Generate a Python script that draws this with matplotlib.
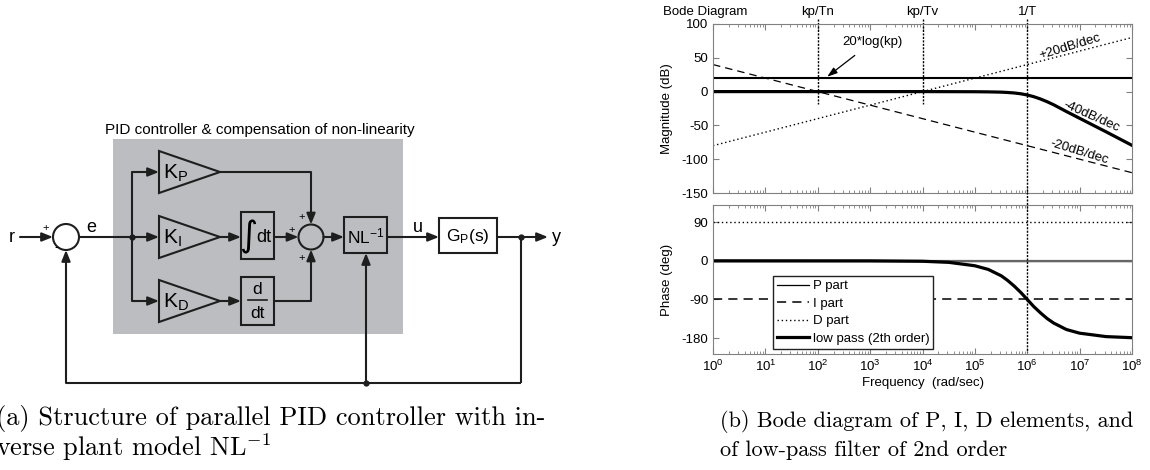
import numpy as np
import matplotlib
matplotlib.use('Agg')
import matplotlib.pyplot as plt
from matplotlib.patches import Rectangle, Circle, Polygon

plt.rcParams['font.family'] = ['Liberation Sans', 'DejaVu Sans']
plt.rcParams['mathtext.fontset'] = 'custom'
plt.rcParams['mathtext.rm'] = 'Liberation Sans'
plt.rcParams['mathtext.it'] = 'Liberation Sans:italic'
plt.rcParams['mathtext.bf'] = 'Liberation Sans:bold'
plt.rcParams['axes.unicode_minus'] = False

# --- bode data ---
w_ends = [1e0, 1e8]
p_mag = [20, 20]
i_mag = [40, -120]
d_mag = [-80, 80]
p_phase = [0, 0]
i_phase = [-90, -90]
d_phase = [90, 90]

lp_w = [1e0, 1e3, 1e4, 3.2e4, 1e5, 1.8e5, 3.2e5, 4.2e5, 5.6e5, 7.5e5, 1e6,
        1.33e6, 1.8e6, 2.4e6, 3.2e6, 5.6e6, 1e7, 3.2e7, 1e8]
lp_mag = [0, 0, 0, -0.1, -0.2, -0.4, -0.8, -1.3, -2.0, -3.2, -5.0,
          -7.5, -11, -15, -19.5, -29.5, -39.5, -59.5, -79.5]
lp_phase = [0, -0.1, -1, -3.6, -11.5, -20, -35, -45.5, -58.5, -73.5, -90,
            -106.5, -121.5, -134.5, -145, -160, -168.5, -176.5, -179]

corner_w = [1e2, 1e4, 1e6]
corner_labels = ['kp/Tn', 'kp/Tv', '1/T']
legend_labels = ['P part', 'I part', 'D part', 'low pass (2th order)']

fig = plt.figure(figsize=(11.5, 4.7), dpi=100)

# --- block diagram, drawn in pixel coordinates ---
d = fig.add_axes([0, 0, 1, 1])
d.set_xlim(0, 1150)
d.set_ylim(470, 0)
d.axis('off')

ink = '#1e1e1e'
gray = '#bcbdc0'


def seg(xs, ys):
    d.plot(xs, ys, color=ink, lw=1.5, solid_capstyle='butt', zorder=3)


def arr(x0, y0, x1, y1):
    d.annotate('', xy=(x1, y1), xytext=(x0, y0),
               arrowprops=dict(arrowstyle='-|>,head_length=0.5,head_width=0.2',
                               mutation_scale=13, color=ink, lw=1.5,
                               shrinkA=0, shrinkB=0), zorder=3)


def dot(x, y):
    d.plot(x, y, 'o', color=ink, ms=3.5, zorder=4)


def box(x, y, w, h, fc):
    d.add_patch(Rectangle((x, y), w, h, fc=fc, ec=ink, lw=1.5, zorder=2))


d.add_patch(Rectangle((113, 139), 290, 195, fc=gray, ec='none', zorder=1))
d.text(260, 130, 'PID controller & compensation of non-linearity',
       fontsize=11, ha='center', va='center')

y0 = 237
d.text(12, y0, 'r', fontsize=13, ha='center', va='center')
arr(20, y0, 53, y0)
d.add_patch(Circle((66, y0), 13, fc='white', ec=ink, lw=1.5, zorder=3))
d.text(46, 228, '+', fontsize=8, ha='center', va='center')
d.text(57, 247, '-', fontsize=10, ha='center', va='center')
d.text(91, 227, 'e', fontsize=13, ha='center', va='center')
seg([79, 132], [y0, y0])
seg([132, 132], [172, 301])
dot(132, y0)

gains = [(172, 'P'), (y0, 'I'), (301, 'D')]
for cy, sub in gains:
    arr(132, cy, 159, cy)
    d.add_patch(Polygon([(159, cy - 21), (159, cy + 21), (220, cy)],
                        closed=True, fc=gray, ec=ink, lw=1.5, zorder=2))
    d.text(163, cy + 1, r'K$_{\mathregular{%s}}$' % sub, fontsize=15,
           ha='left', va='center', zorder=5)

# P branch
seg([220, 311], [172, 172])
arr(311, 172, 311, 224.5)
# I branch
arr(220, y0, 241, y0)
box(241, 212, 33, 47, gray)
d.text(248, y0, '\u222b', family='DejaVu Sans', fontsize=25,
       ha='center', va='center', zorder=5)
d.text(264, y0, 'dt', fontsize=13, ha='center', va='center', zorder=5)
arr(274, y0, 298.5, y0)
# D branch
arr(220, 301, 241, 301)
box(241, 277, 33, 48, gray)
d.text(257.5, 289, 'd', fontsize=12.5, ha='center', va='center', zorder=5)
d.plot([248, 267], [300, 300], color=ink, lw=1.2, zorder=5)
d.text(257.5, 313, 'dt', fontsize=12.5, ha='center', va='center', zorder=5)
seg([274, 311], [301, 301])
arr(311, 301, 311, 249.5)

d.add_patch(Circle((311, y0), 12.5, fc=gray, ec=ink, lw=1.5, zorder=3))
d.text(302, 217, '+', fontsize=8, ha='center', va='center')
d.text(292, 230, '+', fontsize=8, ha='center', va='center')
d.text(302, 258, '+', fontsize=8, ha='center', va='center')
arr(323.5, y0, 344, y0)

box(344, 217, 43, 36, gray)
d.text(366, 236, r'NL$^{\mathregular{-1}}$', fontsize=12.5,
       ha='center', va='center', zorder=5)
arr(387, y0, 439, y0)
d.text(418, 228, 'u', fontsize=13, ha='center', va='center')
box(439, 218, 58, 35, 'white')
d.text(468, 236, r'G$_{\mathregular{P}}$(s)', fontsize=12.5,
       ha='center', va='center', zorder=5)
seg([497, 521], [y0, y0])
arr(521, y0, 548, y0)
d.text(556, y0, 'y', fontsize=13, ha='center', va='center')
dot(521, y0)

seg([521, 521], [y0, 383])
seg([521, 66], [383, 383])
arr(66, 383, 66, 250)
arr(366, 383, 366, 253)
dot(366, 383)

# captions
cap = dict(family='cmr10', ha='left', va='baseline', math_fontfamily='cm')
d.text(-4, 425, '(a) Structure of parallel PID controller with in-',
       fontsize=19, **cap)
d.text(-4, 456, r'verse plant model NL$^{-1}$', fontsize=19, **cap)
d.text(720, 427, '(b) Bode diagram of P, I, D elements, and',
       fontsize=16, **cap)
d.text(720, 456, 'of low-pass filter of 2nd order', fontsize=16, **cap)

# --- bode plot ---
L, W = 713 / 1150, 419 / 1150
mag = fig.add_axes([L, 1 - 193 / 470, W, 169 / 470])
ph = fig.add_axes([L, 1 - 354 / 470, W, 149 / 470])

frame = '#808080'
for ax in (mag, ph):
    ax.set_xscale('log')
    ax.set_xlim(1e0, 1e8)
    for s in ax.spines.values():
        s.set_color(frame)
    ax.tick_params(which='both', direction='in', top=True, right=True,
                   color=frame, labelsize=9.5)
    ax.tick_params(which='major', length=4)
    ax.tick_params(which='minor', length=2)

dash = (0, (6, 4))
dots = (0, (1, 2))

mag.plot(w_ends, p_mag, color='k', lw=1.5)
mag.plot(w_ends, i_mag, color='k', lw=0.9, ls=dash)
mag.plot(w_ends, d_mag, color='k', lw=1.0, ls=dots)
mag.plot(lp_w, lp_mag, color='k', lw=2.3)
mag.set_ylim(-150, 100)
mag.set_yticks([-150, -100, -50, 0, 50, 100])
mag.tick_params(labelbottom=False)
mag.set_ylabel('Magnitude (dB)', fontsize=9.5)
mag.yaxis.set_label_coords(-0.095, 0.5)

vline = (0, (1.5, 1))
for w, lab in zip(corner_w, corner_labels):
    bottom = -150 if w == corner_w[-1] else -18
    mag.plot([w, w], [107, bottom], color='k', lw=1.0, ls=vline, clip_on=False)
    mag.text(w, 118, lab, fontsize=9.5, ha='center', va='center')
fig.text(663 / 1150, 1 - 12 / 470, 'Bode Diagram', fontsize=9.5,
         ha='left', va='center')

mag.annotate('20*log(kp)', xy=(10 ** 2.18, 22), xytext=(10 ** 3.05, 74),
             fontsize=9.5, ha='center', va='center',
             arrowprops=dict(arrowstyle='-|>,head_length=0.6,head_width=0.2',
                             color='k', lw=0.9, shrinkA=6, shrinkB=0,
                             mutation_scale=10))
mag.text(10 ** 6.81, 66, '+20dB/dec', fontsize=9.5, rotation=17,
         ha='center', va='center')
mag.text(10 ** 7.23, -37, '-40dB/dec', fontsize=9.5, rotation=-24,
         ha='center', va='center')
mag.text(10 ** 7.0, -90, '-20dB/dec', fontsize=9.5, rotation=-17,
         ha='center', va='center')

lP, = ph.plot(w_ends, p_phase, color='k', lw=0.9)
ph.plot(w_ends, p_phase, color='#666666', lw=1.6)
lI, = ph.plot(w_ends, i_phase, color='k', lw=1.1, ls=dash)
lD, = ph.plot(w_ends, d_phase, color='k', lw=1.0, ls=dots)
lL, = ph.plot(lp_w, lp_phase, color='k', lw=2.3)
ph.plot([corner_w[-1]] * 2, [160, -212], color='k', lw=1.0, ls=vline,
        clip_on=False)
ph.set_ylim(-217, 130)
ph.set_yticks([-180, -90, 0, 90])
ph.set_ylabel('Phase (deg)', fontsize=9.5)
ph.yaxis.set_label_coords(-0.095, 0.5)
ph.set_xticks([10.0 ** k for k in range(9)])
ph.set_xlabel('Frequency  (rad/sec)', fontsize=9.5, labelpad=2)

leg = ph.legend([lP, lI, lD, lL], legend_labels, loc='upper left',
                bbox_to_anchor=(0.143, 0.523), borderaxespad=0,
                fontsize=9.5, fancybox=False, framealpha=1,
                edgecolor='#222222', handlelength=2.4, handletextpad=0.3,
                labelspacing=0.4, borderpad=0.3)
leg.get_frame().set_linewidth(1.0)

fig.savefig('out.png', dpi=100)
